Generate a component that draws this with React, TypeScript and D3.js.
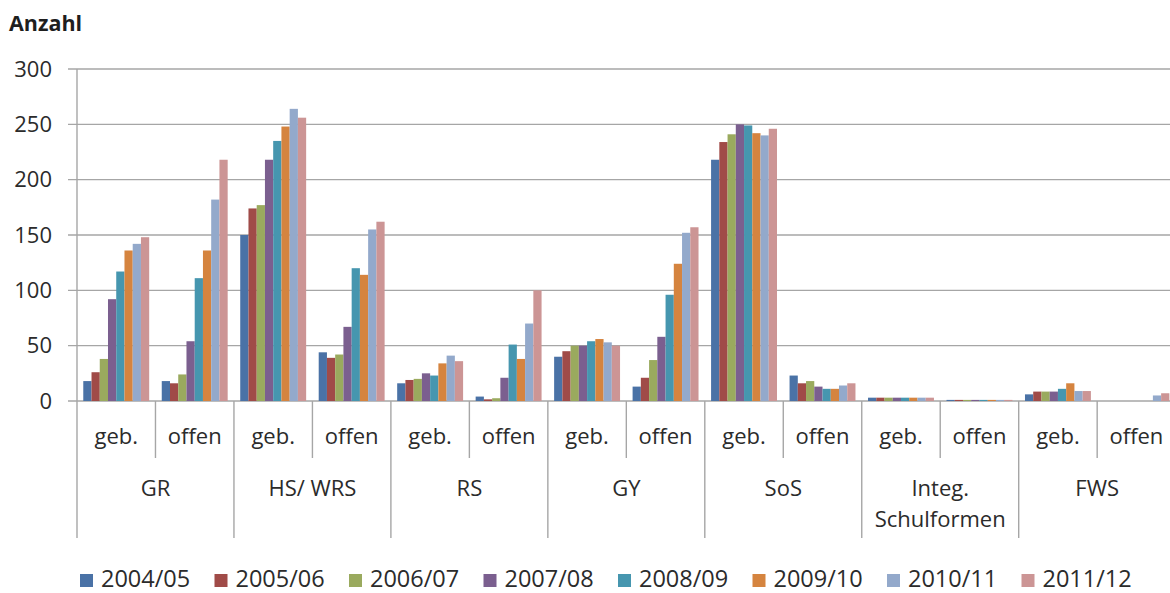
import React from "react";
import * as d3 from "d3";

const schoolTypes = ["GR", "HS/ WRS", "RS", "GY", "SoS", "Integ.\nSchulformen", "FWS"];
const modes = ["geb.", "offen"];
const years = ["2004/05", "2005/06", "2006/07", "2007/08", "2008/09", "2009/10", "2010/11", "2011/12"];
const colors = ["#4A72A6", "#A04B48", "#9AAA5E", "#7B5F8F", "#4696AF", "#D5843F", "#93A9CB", "#CC9595"];
const yTicks = [0, 50, 100, 150, 200, 250, 300];

// One array per school year, ordered GR geb./offen, HS/WRS geb./offen, ...
const v2004 = [18, 18, 150, 44, 16, 4, 40, 13, 218, 23, 3, 1, 6, 0];
const v2005 = [26, 16, 174, 39, 19, 1.5, 45, 21, 234, 16, 3, 1, 8.5, 0];
const v2006 = [38, 24, 177, 42, 20, 2.5, 50, 37, 241, 18, 3, 1, 8.5, 0];
const v2007 = [92, 54, 218, 67, 25, 21, 50, 58, 250, 13, 3, 1, 8.5, 0];
const v2008 = [117, 111, 235, 120, 23, 51, 54, 96, 249, 11, 3, 1, 11, 0];
const v2009 = [136, 136, 248, 114, 34, 38, 56, 124, 242, 11, 3, 1, 16, 0];
const v2010 = [142, 182, 264, 155, 41, 70, 53, 152, 240, 14, 3, 1, 9, 5];
const v2011 = [148, 218, 256, 162, 36, 100, 50, 157, 246, 16, 3, 1, 9, 7];
const series = [v2004, v2005, v2006, v2007, v2008, v2009, v2010, v2011];

const W = 1170;
const H = 593;
const left = 77;
const groupW = 156.95;
const top = 69;
const bottom = 401;
const font = "'Open Sans', sans-serif";

export default function App() {
  const categories = schoolTypes.flatMap((g) => modes.map((m) => `${g}|${m}`));
  const x = d3
    .scaleBand<string>()
    .domain(categories)
    .range([left, left + groupW * schoolTypes.length]);
  const bw = x.bandwidth();
  const inner = d3
    .scaleBand<string>()
    .domain(years)
    .range([bw * 0.08, bw * 0.92]);
  const y = d3.scaleLinear().domain([0, 300]).range([bottom, top]);
  const gx = d3
    .scaleBand<string>()
    .domain(schoolTypes)
    .range([left, left + groupW * schoolTypes.length]);
  const axisColor = "#A6A6A6";
  const textColor = "#2b2b2b";

  return (
    <svg
      width={W}
      height={H}
      style={{ position: "absolute", left: 0, top: 0, background: "#fff" }}
      fontFamily={font}
    >
      <text x={9} y={31} fontSize={21.5} fontWeight={700} fill="#1e1e1e">
        Anzahl
      </text>

      {yTicks.map((t) => (
        <g key={t}>
          <line x1={68} x2={W} y1={y(t)} y2={y(t)} stroke={axisColor} strokeWidth={1.4} />
          <text x={52} y={y(t)} dy="0.35em" textAnchor="end" fontSize={22} fill={textColor}>
            {t}
          </text>
        </g>
      ))}
      <line x1={left} x2={left} y1={top} y2={bottom} stroke={axisColor} strokeWidth={1.4} />

      {series.map((vals, si) => (
        <g key={years[si]} fill={colors[si]}>
          {vals.map((v, ci) => (
            <rect
              key={ci}
              x={(x(categories[ci]) ?? 0) + (inner(years[si]) ?? 0)}
              y={y(v)}
              width={inner.bandwidth()}
              height={bottom - y(v)}
            />
          ))}
        </g>
      ))}

      {categories.map((c, ci) => {
        const x0 = x(c) ?? 0;
        const isGroupStart = ci % 2 === 0;
        return (
          <g key={c}>
            <line
              x1={x0}
              x2={x0}
              y1={bottom}
              y2={isGroupStart ? 538 : 458}
              stroke={axisColor}
              strokeWidth={1.4}
            />
            <text x={x0 + bw / 2} y={444} textAnchor="middle" fontSize={22} fill={textColor}>
              {c.split("|")[1]}
            </text>
          </g>
        );
      })}

      {schoolTypes.map((g) => {
        const lines = g.split("\n");
        const cx = (gx(g) ?? 0) + gx.bandwidth() / 2;
        return (
          <text key={g} textAnchor="middle" fontSize={22} fill={textColor}>
            {lines.map((l, li) => (
              <tspan key={li} x={cx} y={lines.length > 1 ? 496 + li * 31 : 496}>
                {l}
              </tspan>
            ))}
          </text>
        );
      })}

      {years.map((yr, i) => {
        const lx = 80 + i * 134.5;
        return (
          <g key={yr}>
            <rect x={lx} y={574} width={13} height={13} fill={colors[i]} />
            <text x={lx + 21} y={587} fontSize={23.5} fill={textColor}>
              {yr}
            </text>
          </g>
        );
      })}
    </svg>
  );
}
